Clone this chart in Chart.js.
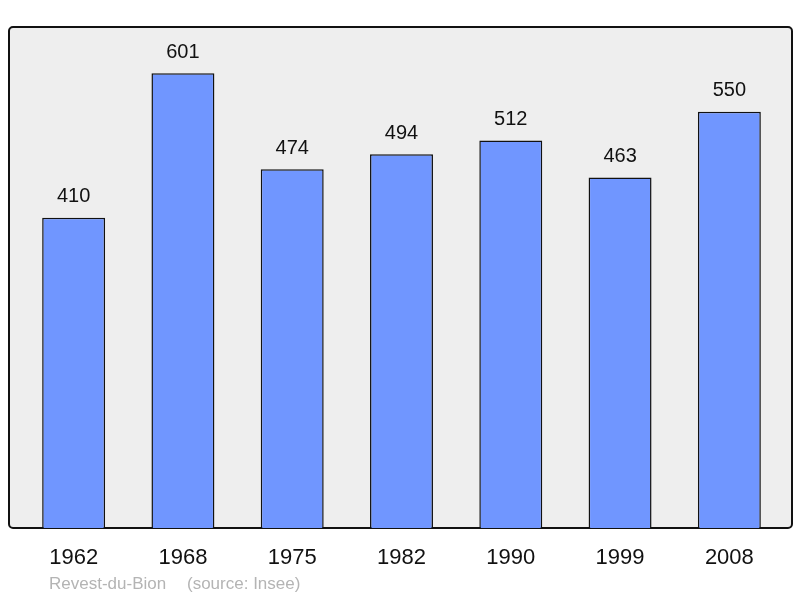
<!DOCTYPE html>
<html>
<head>
<meta charset="utf-8">
<script src="https://cdn.jsdelivr.net/npm/chart.js@4"></script>
<style>
  body { margin: 0; background: #fff; }
  #wrap { width: 800px; height: 598px; }
</style>
</head>
<body>
<div id="wrap"><canvas id="myChart" width="800" height="598"></canvas></div>
<script>
const years = ['1962', '1968', '1975', '1982', '1990', '1999', '2008'];
const population = [410, 601, 474, 494, 512, 463, 550];
const commune = 'Revest-du-Bion';
const source = '(source: Insee)';

// grey frame behind the bars
const framePlugin = {
    id: 'frame',
    beforeDatasetsDraw(chart) {
        const a = chart.chartArea;
        const c = chart.ctx;
        c.save();
        c.beginPath();
        c.roundRect(a.left - 10, a.top, a.right - a.left + 18, a.bottom - a.top, 4);
        c.fillStyle = '#eeeeee';
        c.fill();
        c.lineWidth = 2;
        c.strokeStyle = '#111';
        c.stroke();
        c.restore();
    }
};

// numbers above bars + caption
const labelPlugin = {
    id: 'labels',
    afterDatasetsDraw(chart) {
        const c = chart.ctx;
        const meta = chart.getDatasetMeta(0);
        c.save();
        c.font = '20px "Liberation Sans", Arial, sans-serif';
        c.fillStyle = '#111';
        c.textAlign = 'center';
        c.textBaseline = 'middle';
        meta.data.forEach((bar, i) => {
            c.fillText(population[i], bar.x, bar.y - 21);
        });
        c.font = '17px "Liberation Sans", Arial, sans-serif';
        c.fillStyle = '#b4b4b4';
        c.textAlign = 'left';
        c.fillText(commune, 49, 584);
        c.fillText(source, 187, 584);
        c.restore();
    }
};

var ctx = document.getElementById('myChart').getContext('2d');
new Chart(ctx, {
    type: 'bar',
    data: {
        labels: years,
        datasets: [{
            data: population,
            backgroundColor: '#7096ff',
            borderColor: '#111',
            borderWidth: 1.5,
            barPercentage: 0.576,
            categoryPercentage: 1
        }]
    },
    options: {
        responsive: false,
        animation: false,
        layout: { padding: { left: 19, right: 16, top: 27, bottom: 0 } },
        plugins: {
            legend: { display: false },
            tooltip: { enabled: false }
        },
        scales: {
            y: {
                display: false,
                min: 0,
                max: 662
            },
            x: {
                grid: { display: false, drawTicks: false },
                border: { display: false },
                ticks: {
                    color: '#111',
                    padding: 17,
                    font: { size: 22, family: '"Liberation Sans", Arial, sans-serif' }
                },
                afterFit(scale) {
                    scale.height = 70;
                }
            }
        }
    },
    plugins: [framePlugin, labelPlugin]
});
</script>
</body>
</html>
